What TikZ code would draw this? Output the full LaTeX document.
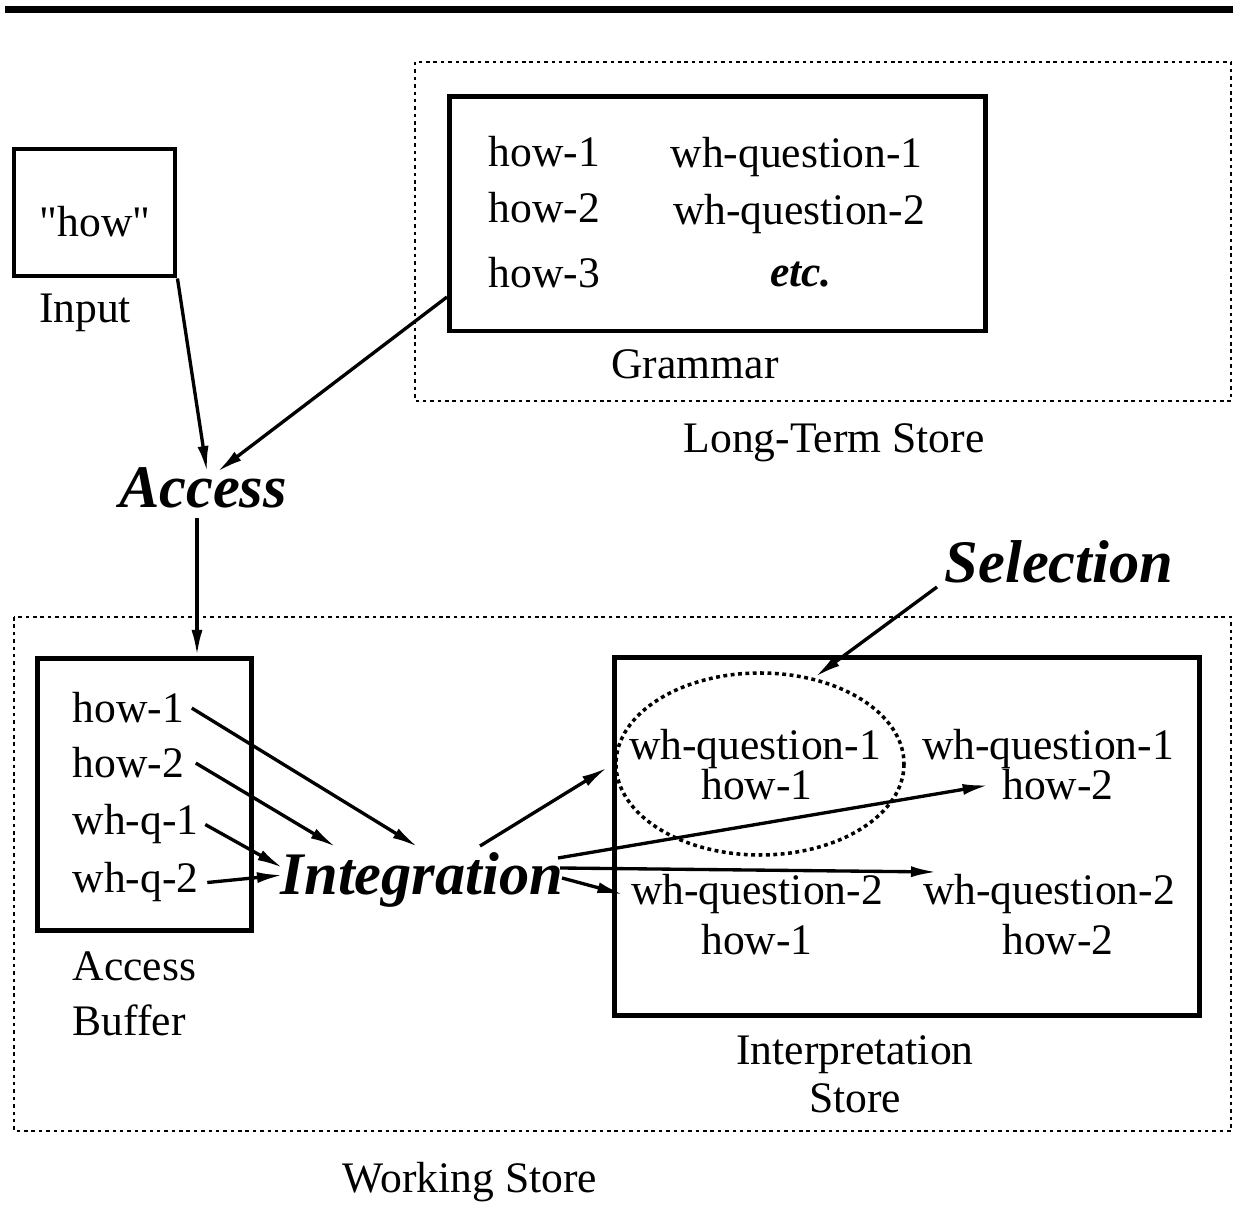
\documentclass[tikz,border=0pt]{standalone}
\usepackage{fontspec}
\setmainfont[Ligatures=TeXOff]{Liberation Serif}
\usetikzlibrary{arrows.meta}

\newcommand\basefont{\fontsize{12.4pt}{14pt}\selectfont}
\newcommand\stepfont{\fontsize{17.2pt}{20pt}\selectfont\bfseries\itshape}

\tikzset{
  boxthick/.style={draw, line width=1.4pt, inner sep=0pt},
  storeline/.style={line width=0.45pt, dash pattern=on 1pt off 1.1pt},
  flow/.style={-{Latex[length=2.6mm,width=1.1mm]}, line width=0.95pt},
  txt/.style={inner sep=0pt, anchor=base, font=\basefont},
  stepname/.style={inner sep=0pt, anchor=base, font=\stepfont}
}

\begin{document}
\begin{tikzpicture}[x=1cm, y=-1cm]
  \useasboundingbox (0,0) rectangle (12.33,12.05);

  % rule along the top
  \draw[line width=1.8pt] (0.05,0.095) -- (12.33,0.095);

  % the two stores
  \draw[storeline] (4.15,0.62) rectangle (12.31,4.01);
  \draw[storeline] (0.14,6.17) rectangle (12.31,11.31);
  \node[txt] (ltsname) at (8.34,4.53) {Long-Term Store};
  \node[txt] (wsname) at (4.70,11.92) {Working Store};

  % input
  \node[boxthick, minimum width=1.61cm, minimum height=1.27cm] (inbox) at (0.945,2.125) {};
  \node[txt] (inword) at (0.95,2.37) {"how"};
  \node[txt] (inname) at (0.85,3.23) {Input};

  % grammar
  \node[boxthick, minimum width=5.36cm, minimum height=2.345cm] (gram) at (7.175,2.1375) {};
  \node[txt, anchor=base west] (g1) at (4.88,1.67) {how-1};
  \node[txt, anchor=base west] (g2) at (4.88,2.23) {how-2};
  \node[txt, anchor=base west] (g3) at (4.88,2.88) {how-3};
  \node[txt] (gq1) at (7.965,1.68) {wh-question-1};
  \node[txt] (gq2) at (7.99,2.25) {wh-question-2};
  \node[txt] (getc) at (8.01,2.87) {\bfseries\itshape etc.};
  \node[txt] (gramname) at (6.95,3.79) {Grammar};

  \node[stepname] (access) at (2.03,5.08) {Access};

  % access buffer
  \node[boxthick, minimum width=2.14cm, minimum height=2.72cm] (buffer) at (1.445,7.945) {};
  \node[txt, anchor=base west] (b1) at (0.72,7.23) {how-1};
  \node[txt, anchor=base west] (b2) at (0.72,7.78) {how-2};
  \node[txt, anchor=base west] (b3) at (0.72,8.35) {wh-q-1};
  \node[txt, anchor=base west] (b4) at (0.72,8.93) {wh-q-2};
  \node[txt, anchor=base west] (bufname1) at (0.72,9.80) {Access};
  \node[txt, anchor=base west] (bufname2) at (0.72,10.35) {Buffer};

  \node[stepname] (integ) at (4.22,8.95) {Integration};
  \node[stepname] (select) at (10.59,5.83) {Selection};

  % interpretation store
  \node[boxthick, minimum width=5.85cm, minimum height=3.58cm] (interp) at (9.07,8.365) {};
  \node[txt] (i11a) at (7.55,7.60) {wh-question-1};
  \node[txt] (i11b) at (7.57,8.00) {how-1};
  \node[txt] (i12a) at (10.48,7.60) {wh-question-1};
  \node[txt] (i12b) at (10.58,8.00) {how-2};
  \node[txt] (i21a) at (7.57,9.05) {wh-question-2};
  \node[txt] (i21b) at (7.57,9.55) {how-1};
  \node[txt] (i22a) at (10.49,9.05) {wh-question-2};
  \node[txt] (i22b) at (10.58,9.55) {how-2};
  \node[txt] (interpname1) at (8.55,10.65) {Interpretation};
  \node[txt] (interpname2) at (8.55,11.12) {Store};

  % the selected reading
  \draw[line width=1pt, dash pattern=on 1.1pt off 1pt] (7.60,7.64) ellipse [x radius=1.44, y radius=0.91];

  % ends of the connectors
  \coordinate (accIn1) at (2.07,4.72);
  \coordinate (accIn2) at (2.17,4.72);
  \coordinate (gramOut) at (4.47,2.97);
  \coordinate (accOut) at (1.97,5.18);
  \coordinate (bufIn) at (1.97,6.56);
  \coordinate (intIn1) at (4.18,8.47);
  \coordinate (intIn2) at (3.36,8.47);
  \coordinate (intIn3) at (2.83,8.68);
  \coordinate (intIn4) at (2.83,8.75);
  \coordinate (intOut1) at (4.80,8.46);
  \coordinate (intOut2) at (5.58,8.58);
  \coordinate (intOut3) at (5.60,8.68);
  \coordinate (intOut4) at (5.62,8.78);
  \coordinate (selOut) at (9.37,5.87);
  \coordinate (ellTop) at (8.15,6.77);

  \draw[flow] (inbox.south east) -- (accIn1);
  \draw[flow] (gramOut) -- (accIn2);
  \draw[flow] (accOut) -- (bufIn);

  \draw[flow] ([xshift=0.07cm]b1.east) -- (intIn1);
  \draw[flow] ([xshift=0.11cm]b2.east) -- (intIn2);
  \draw[flow] ([xshift=0.06cm]b3.east) -- (intIn3);
  \draw[flow] ([xshift=0.08cm]b4.east) -- (intIn4);

  \draw[flow] (intOut1) -- ([shift={(-0.21,0.18)}]i11a.west);
  \draw[flow] (intOut2) -- ([xshift=-0.13cm]i12b.west);
  \draw[flow] (intOut3) -- (9.37,8.72);
  \draw[flow] (intOut4) -- ([xshift=-0.07cm]i21a.west);

  \draw[flow] (selOut) -- (ellTop);
\end{tikzpicture}
\end{document}
